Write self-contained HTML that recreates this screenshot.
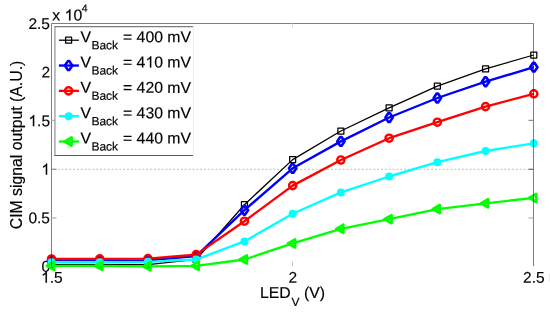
<!DOCTYPE html>
<html><head><meta charset="utf-8"><title>chart</title>
<style>
html,body{margin:0;padding:0;background:#fff;}
body{width:550px;height:312px;overflow:hidden;}
svg{display:block;font-family:"Liberation Sans",sans-serif;will-change:transform;}
text{font-family:"Liberation Sans",sans-serif;fill:#000;stroke:#000;stroke-width:0.16px;}
</style></head><body>
<svg width="550" height="312" viewBox="0 0 550 312">
<rect x="0" y="0" width="550" height="312" fill="#fff"/>

<line x1="57.7" y1="169.3" x2="528.5" y2="169.3" stroke="#b4b4b4" stroke-width="0.9" stroke-dasharray="1.9 1.95"/>
<text transform="translate(50.00,271.75) rotate(0.06)" font-size="15.5" text-anchor="end">0</text>
<text transform="translate(50.00,223.21) rotate(0.06)" font-size="15.5" text-anchor="end">0.5</text>
<path transform="translate(41.38,174.67) scale(0.007568,-0.007568)" d="M763 0H583V1147Q518 1085 412.5 1023Q307 961 223 930V1104Q374 1175 487 1276Q600 1377 647 1472H763Z" fill="#000" stroke="#000" stroke-width="21"/>
<path transform="translate(28.45,126.13) scale(0.007568,-0.007568)" d="M763 0H583V1147Q518 1085 412.5 1023Q307 961 223 930V1104Q374 1175 487 1276Q600 1377 647 1472H763Z" fill="#000" stroke="#000" stroke-width="21"/><text xml:space="preserve" transform="translate(37.07,126.13) rotate(0.06)" font-size="15.5">.5</text>
<text transform="translate(50.00,77.59) rotate(0.06)" font-size="15.5" text-anchor="end">2</text>
<text transform="translate(50.00,29.05) rotate(0.06)" font-size="15.5" text-anchor="end">2.5</text>
<polyline points="51.50,264.70 99.73,264.70 147.96,264.60 196.19,259.40 244.42,204.70 292.65,159.60 340.88,131.00 389.11,107.80 437.34,86.10 485.57,68.90 533.80,55.00" fill="none" stroke="#000" stroke-width="1.3" stroke-linejoin="round"/>
<rect x="48.50" y="261.70" width="6.0" height="6.0" fill="none" stroke="#000" stroke-width="1.25" stroke-linejoin="round"/>
<rect x="96.73" y="261.70" width="6.0" height="6.0" fill="none" stroke="#000" stroke-width="1.25" stroke-linejoin="round"/>
<rect x="144.96" y="261.60" width="6.0" height="6.0" fill="none" stroke="#000" stroke-width="1.25" stroke-linejoin="round"/>
<rect x="193.19" y="256.40" width="6.0" height="6.0" fill="none" stroke="#000" stroke-width="1.25" stroke-linejoin="round"/>
<rect x="241.42" y="201.70" width="6.0" height="6.0" fill="none" stroke="#000" stroke-width="1.25" stroke-linejoin="round"/>
<rect x="289.65" y="156.60" width="6.0" height="6.0" fill="none" stroke="#000" stroke-width="1.25" stroke-linejoin="round"/>
<rect x="337.88" y="128.00" width="6.0" height="6.0" fill="none" stroke="#000" stroke-width="1.25" stroke-linejoin="round"/>
<rect x="386.11" y="104.80" width="6.0" height="6.0" fill="none" stroke="#000" stroke-width="1.25" stroke-linejoin="round"/>
<rect x="434.34" y="83.10" width="6.0" height="6.0" fill="none" stroke="#000" stroke-width="1.25" stroke-linejoin="round"/>
<rect x="482.57" y="65.90" width="6.0" height="6.0" fill="none" stroke="#000" stroke-width="1.25" stroke-linejoin="round"/>
<rect x="530.80" y="52.00" width="6.0" height="6.0" fill="none" stroke="#000" stroke-width="1.25" stroke-linejoin="round"/>
<polyline points="51.50,260.80 99.73,260.70 147.96,260.30 196.19,256.20 244.42,210.20 292.65,168.30 340.88,141.40 389.11,117.50 437.34,98.00 485.57,81.70 533.80,67.15" fill="none" stroke="#0000ff" stroke-width="2.35" stroke-linejoin="round"/>
<path d="M50.80 256.40 L52.20 256.40 L55.20 260.80 L52.20 265.20 L50.80 265.20 L47.80 260.80 Z" fill="none" stroke="#0000ff" stroke-width="2.6" stroke-linejoin="round"/>
<path d="M99.03 256.30 L100.43 256.30 L103.43 260.70 L100.43 265.10 L99.03 265.10 L96.03 260.70 Z" fill="none" stroke="#0000ff" stroke-width="2.6" stroke-linejoin="round"/>
<path d="M147.26 255.90 L148.66 255.90 L151.66 260.30 L148.66 264.70 L147.26 264.70 L144.26 260.30 Z" fill="none" stroke="#0000ff" stroke-width="2.6" stroke-linejoin="round"/>
<path d="M195.49 251.80 L196.89 251.80 L199.89 256.20 L196.89 260.60 L195.49 260.60 L192.49 256.20 Z" fill="none" stroke="#0000ff" stroke-width="2.6" stroke-linejoin="round"/>
<path d="M243.72 205.80 L245.12 205.80 L248.12 210.20 L245.12 214.60 L243.72 214.60 L240.72 210.20 Z" fill="none" stroke="#0000ff" stroke-width="2.6" stroke-linejoin="round"/>
<path d="M291.95 163.90 L293.35 163.90 L296.35 168.30 L293.35 172.70 L291.95 172.70 L288.95 168.30 Z" fill="none" stroke="#0000ff" stroke-width="2.6" stroke-linejoin="round"/>
<path d="M340.18 137.00 L341.58 137.00 L344.58 141.40 L341.58 145.80 L340.18 145.80 L337.18 141.40 Z" fill="none" stroke="#0000ff" stroke-width="2.6" stroke-linejoin="round"/>
<path d="M388.41 113.10 L389.81 113.10 L392.81 117.50 L389.81 121.90 L388.41 121.90 L385.41 117.50 Z" fill="none" stroke="#0000ff" stroke-width="2.6" stroke-linejoin="round"/>
<path d="M436.64 93.60 L438.04 93.60 L441.04 98.00 L438.04 102.40 L436.64 102.40 L433.64 98.00 Z" fill="none" stroke="#0000ff" stroke-width="2.6" stroke-linejoin="round"/>
<path d="M484.87 77.30 L486.27 77.30 L489.27 81.70 L486.27 86.10 L484.87 86.10 L481.87 81.70 Z" fill="none" stroke="#0000ff" stroke-width="2.6" stroke-linejoin="round"/>
<path d="M533.10 62.75 L534.50 62.75 L537.50 67.15 L534.50 71.55 L533.10 71.55 L530.10 67.15 Z" fill="none" stroke="#0000ff" stroke-width="2.6" stroke-linejoin="round"/>
<polyline points="51.50,259.00 99.73,258.90 147.96,258.60 196.19,254.60 244.42,221.20 292.65,185.60 340.88,160.00 389.11,138.20 437.34,122.20 485.57,106.60 533.80,93.80" fill="none" stroke="#ff0000" stroke-width="2.35" stroke-linejoin="round"/>
<circle cx="51.50" cy="259.00" r="3.6" fill="none" stroke="#ff0000" stroke-width="2.4"/>
<circle cx="99.73" cy="258.90" r="3.6" fill="none" stroke="#ff0000" stroke-width="2.4"/>
<circle cx="147.96" cy="258.60" r="3.6" fill="none" stroke="#ff0000" stroke-width="2.4"/>
<circle cx="196.19" cy="254.60" r="3.6" fill="none" stroke="#ff0000" stroke-width="2.4"/>
<circle cx="244.42" cy="221.20" r="3.6" fill="none" stroke="#ff0000" stroke-width="2.4"/>
<circle cx="292.65" cy="185.60" r="3.6" fill="none" stroke="#ff0000" stroke-width="2.4"/>
<circle cx="340.88" cy="160.00" r="3.6" fill="none" stroke="#ff0000" stroke-width="2.4"/>
<circle cx="389.11" cy="138.20" r="3.6" fill="none" stroke="#ff0000" stroke-width="2.4"/>
<circle cx="437.34" cy="122.20" r="3.6" fill="none" stroke="#ff0000" stroke-width="2.4"/>
<circle cx="485.57" cy="106.60" r="3.6" fill="none" stroke="#ff0000" stroke-width="2.4"/>
<circle cx="533.80" cy="93.80" r="3.6" fill="none" stroke="#ff0000" stroke-width="2.4"/>
<polyline points="51.50,262.20 99.73,262.20 147.96,261.80 196.19,259.50 244.42,241.40 292.65,213.80 340.88,192.40 389.11,176.50 437.34,162.20 485.57,151.00 533.80,143.30" fill="none" stroke="#00ffff" stroke-width="2.35" stroke-linejoin="round"/>
<circle cx="51.50" cy="262.20" r="4.0" fill="#00ffff" stroke="none"/>
<circle cx="99.73" cy="262.20" r="4.0" fill="#00ffff" stroke="none"/>
<circle cx="147.96" cy="261.80" r="4.0" fill="#00ffff" stroke="none"/>
<circle cx="196.19" cy="259.50" r="4.0" fill="#00ffff" stroke="none"/>
<circle cx="244.42" cy="241.40" r="4.0" fill="#00ffff" stroke="none"/>
<circle cx="292.65" cy="213.80" r="4.0" fill="#00ffff" stroke="none"/>
<circle cx="340.88" cy="192.40" r="4.0" fill="#00ffff" stroke="none"/>
<circle cx="389.11" cy="176.50" r="4.0" fill="#00ffff" stroke="none"/>
<circle cx="437.34" cy="162.20" r="4.0" fill="#00ffff" stroke="none"/>
<circle cx="485.57" cy="151.00" r="4.0" fill="#00ffff" stroke="none"/>
<circle cx="533.80" cy="143.30" r="4.0" fill="#00ffff" stroke="none"/>
<polyline points="51.50,265.85 99.73,265.85 147.96,266.30 196.19,265.80 244.42,259.50 292.65,243.40 340.88,228.80 389.11,219.20 437.34,209.10 485.57,203.30 533.80,197.90" fill="none" stroke="#00ff00" stroke-width="2.35" stroke-linejoin="round"/>
<path d="M46.80 265.85 L54.00 261.75 L54.00 269.95 Z" fill="none" stroke="#00ff00" stroke-width="2.6" stroke-linejoin="round"/>
<path d="M95.03 265.85 L102.23 261.75 L102.23 269.95 Z" fill="none" stroke="#00ff00" stroke-width="2.6" stroke-linejoin="round"/>
<path d="M143.26 266.30 L150.46 262.20 L150.46 270.40 Z" fill="none" stroke="#00ff00" stroke-width="2.6" stroke-linejoin="round"/>
<path d="M191.49 265.80 L198.69 261.70 L198.69 269.90 Z" fill="none" stroke="#00ff00" stroke-width="2.6" stroke-linejoin="round"/>
<path d="M239.72 259.50 L246.92 255.40 L246.92 263.60 Z" fill="none" stroke="#00ff00" stroke-width="2.6" stroke-linejoin="round"/>
<path d="M287.95 243.40 L295.15 239.30 L295.15 247.50 Z" fill="none" stroke="#00ff00" stroke-width="2.6" stroke-linejoin="round"/>
<path d="M336.18 228.80 L343.38 224.70 L343.38 232.90 Z" fill="none" stroke="#00ff00" stroke-width="2.6" stroke-linejoin="round"/>
<path d="M384.41 219.20 L391.61 215.10 L391.61 223.30 Z" fill="none" stroke="#00ff00" stroke-width="2.6" stroke-linejoin="round"/>
<path d="M432.64 209.10 L439.84 205.00 L439.84 213.20 Z" fill="none" stroke="#00ff00" stroke-width="2.6" stroke-linejoin="round"/>
<path d="M480.87 203.30 L488.07 199.20 L488.07 207.40 Z" fill="none" stroke="#00ff00" stroke-width="2.6" stroke-linejoin="round"/>
<path d="M529.10 197.90 L536.30 193.80 L536.30 202.00 Z" fill="none" stroke="#00ff00" stroke-width="2.6" stroke-linejoin="round"/>
<path d="M51.5 266.2 L51.5 23.5 L533.5 23.5 L533.5 266.2" fill="none" stroke="#000" stroke-opacity="0.5" stroke-width="1"/>
<line x1="51.5" y1="217.95" x2="56.5" y2="217.95" stroke="#a8a8a8" stroke-width="1.1"/>
<line x1="51.5" y1="169.25" x2="56.5" y2="169.25" stroke="#808080" stroke-width="1.1"/>
<line x1="533.5" y1="217.95" x2="528.5" y2="217.95" stroke="#a8a8a8" stroke-width="1.1"/>
<line x1="533.5" y1="169.25" x2="528.5" y2="169.25" stroke="#555" stroke-width="1.1"/>
<line x1="533.5" y1="120.35" x2="528.5" y2="120.35" stroke="#808080" stroke-width="1.1"/>
<line x1="292.5" y1="266.2" x2="292.5" y2="261.7" stroke="#c4c4c4" stroke-width="1.1"/>
<line x1="292.5" y1="23.5" x2="292.5" y2="28.0" stroke="#dcdcdc" stroke-width="1.1"/>
<line x1="51.5" y1="120.3" x2="55.0" y2="120.3" stroke="#a0a0a0" stroke-width="1"/>
<rect x="54.9" y="26.6" width="138.3" height="128.9" fill="#fff" stroke="none"/>
<line x1="54.4" y1="26.6" x2="193.2" y2="26.6" stroke="#7e7e7e" stroke-width="1.05"/>
<line x1="54.95" y1="26.6" x2="54.95" y2="155.5" stroke="#8e8e8e" stroke-width="1.15"/>
<line x1="54.4" y1="155.5" x2="193.2" y2="155.5" stroke="#5c5c5c" stroke-width="1"/>
<line x1="193.4" y1="26.6" x2="193.4" y2="155.5" stroke="#ececec" stroke-width="1"/>
<line x1="58.9" y1="40.20" x2="78.9" y2="40.20" stroke="#000" stroke-width="1.3"/>
<rect x="65.60" y="37.20" width="6.0" height="6.0" fill="none" stroke="#000" stroke-width="1.25" stroke-linejoin="round"/>
<text transform="translate(80.40,42.15) rotate(0.06)" font-size="15.8">V</text>
<text transform="translate(91.40,49.15) rotate(0.06)" font-size="12">Back</text>
<text transform="translate(123.00,42.15) rotate(0.06)" font-size="15.8">= 400 mV</text>
<line x1="58.9" y1="65.53" x2="78.9" y2="65.53" stroke="#0000ff" stroke-width="2.35"/>
<path d="M67.90 61.13 L69.30 61.13 L72.30 65.53 L69.30 69.93 L67.90 69.93 L64.90 65.53 Z" fill="none" stroke="#0000ff" stroke-width="2.6" stroke-linejoin="round"/>
<text transform="translate(80.40,67.49) rotate(0.06)" font-size="15.8">V</text>
<text transform="translate(91.40,74.49) rotate(0.06)" font-size="12">Back</text>
<text xml:space="preserve" transform="translate(123.00,67.49) rotate(0.06)" font-size="15.8">= 4</text><path transform="translate(145.40,67.49) scale(0.007715,-0.007715)" d="M763 0H583V1147Q518 1085 412.5 1023Q307 961 223 930V1104Q374 1175 487 1276Q600 1377 647 1472H763Z" fill="#000" stroke="#000" stroke-width="21"/><text xml:space="preserve" transform="translate(154.19,67.49) rotate(0.06)" font-size="15.8">0 mV</text>
<line x1="58.9" y1="90.86" x2="78.9" y2="90.86" stroke="#ff0000" stroke-width="2.35"/>
<circle cx="68.60" cy="90.86" r="3.6" fill="none" stroke="#ff0000" stroke-width="2.4"/>
<text transform="translate(80.40,92.83) rotate(0.06)" font-size="15.8">V</text>
<text transform="translate(91.40,99.83) rotate(0.06)" font-size="12">Back</text>
<text transform="translate(123.00,92.83) rotate(0.06)" font-size="15.8">= 420 mV</text>
<line x1="58.9" y1="116.19" x2="78.9" y2="116.19" stroke="#00ffff" stroke-width="2.35"/>
<circle cx="68.60" cy="116.19" r="4.0" fill="#00ffff" stroke="none"/>
<text transform="translate(80.40,118.17) rotate(0.06)" font-size="15.8">V</text>
<text transform="translate(91.40,125.17) rotate(0.06)" font-size="12">Back</text>
<text transform="translate(123.00,118.17) rotate(0.06)" font-size="15.8">= 430 mV</text>
<line x1="58.9" y1="141.52" x2="78.9" y2="141.52" stroke="#00ff00" stroke-width="2.35"/>
<path d="M64.40 141.52 L71.60 137.42 L71.60 145.62 Z" fill="none" stroke="#00ff00" stroke-width="2.6" stroke-linejoin="round"/>
<text transform="translate(80.40,143.51) rotate(0.06)" font-size="15.8">V</text>
<text transform="translate(91.40,150.51) rotate(0.06)" font-size="12">Back</text>
<text transform="translate(123.00,143.51) rotate(0.06)" font-size="15.8">= 440 mV</text>
<path transform="translate(41.13,282.70) scale(0.007568,-0.007568)" d="M763 0H583V1147Q518 1085 412.5 1023Q307 961 223 930V1104Q374 1175 487 1276Q600 1377 647 1472H763Z" fill="#000" stroke="#000" stroke-width="21"/><text xml:space="preserve" transform="translate(49.75,282.70) rotate(0.06)" font-size="15.5">.5</text>
<text transform="translate(292.90,282.70) rotate(0.06)" font-size="15.5" text-anchor="middle">2</text>
<text transform="translate(533.90,282.70) rotate(0.06)" font-size="15.5" text-anchor="middle">2.5</text>
<text xml:space="preserve" transform="translate(52.30,20.60) rotate(0.06)" font-size="15.8">x </text><path transform="translate(64.59,20.60) scale(0.007715,-0.007715)" d="M763 0H583V1147Q518 1085 412.5 1023Q307 961 223 930V1104Q374 1175 487 1276Q600 1377 647 1472H763Z" fill="#000" stroke="#000" stroke-width="21"/><text xml:space="preserve" transform="translate(73.38,20.60) rotate(0.06)" font-size="15.8">0</text>
<text transform="translate(81.80,11.70) rotate(0.06)" font-size="10.5">4</text>
<text transform="translate(260.00,298.10) rotate(0.06)" font-size="15.8">LED</text>
<text transform="translate(291.50,306.00) rotate(0.06)" font-size="12">V</text>
<text transform="translate(304.00,298.10) rotate(0.06)" font-size="15.8">(V)</text>
<text transform="translate(21.7,145.0) rotate(-90)" font-size="15.8" text-anchor="middle">CIM signal output (A.U.)</text>
<rect x="549" y="274" width="1" height="8" fill="#e8e8e8"/>
</svg></body></html>
